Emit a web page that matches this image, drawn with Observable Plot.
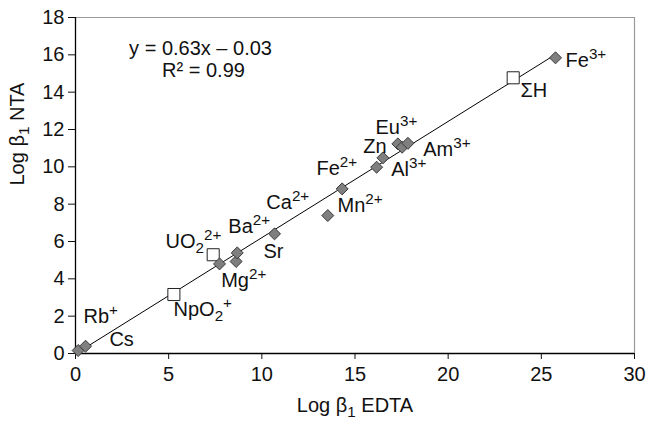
<!DOCTYPE html>
<html>
<head>
<meta charset="utf-8">
<script src="https://cdn.jsdelivr.net/npm/d3@7"></script>
<script src="https://cdn.jsdelivr.net/npm/@observablehq/plot@0.6"></script>
<style>
  html, body { margin: 0; padding: 0; background: #fff; }
  svg { font-family: "Liberation Sans", Arial, Helvetica, sans-serif; }
</style>
</head>
<body>
<div id="chart"></div>
<script>
// ---- data ----
const ions = ["Rb+", "Cs", "NpO2+", "UO2 2+", "Mg a", "Mg b", "Ba/Ca", "Sr", "Mn2+", "Fe2+", "Al a", "Al b", "Zn", "Eu3+", "Am3+", "ΣH", "Fe3+"];
const logEDTA = [0.14, 0.54, 5.28, 7.39, 7.73, 8.62, 8.68, 10.68, 13.54, 14.31, 16.16, 16.5, 17.3, 17.53, 17.84, 23.49, 25.76];
const logNTA  = [0.16, 0.39, 3.16, 5.29, 4.80, 4.93, 5.39, 6.41, 7.39, 8.82, 9.98, 10.48, 11.23, 11.05, 11.26, 14.77, 15.84];
const kinds   = ["d", "d", "s", "s", "d", "d", "d", "d", "d", "d", "d", "d", "d", "d", "d", "s", "d"];

// annotation labels (markup: ^{..} superscript, _{..} subscript), anchored in data units
const labelText = ["Fe^{3+}", "ΣH", "Eu^{3+}", "Zn", "Am^{3+}", "Al^{3+}", "Fe^{2+}", "Mn^{2+}", "Ca^{2+}", "Ba^{2+}", "UO_{2}^{2+}", "Sr", "Mg^{2+}", "NpO_{2}^{+}", "Rb^{+}", "Cs"];
const labelX = [26.30, 23.88, 16.10, 15.44, 18.66, 16.94, 12.93, 14.06, 10.24, 8.20, 4.83, 10.09, 7.82, 5.26, 0.43, 1.82];
const labelY = [15.70, 14.09, 12.11, 11.09, 10.90, 9.86, 9.91, 7.93, 8.07, 6.78, 6.00, 5.46, 3.91, 2.36, 1.98, 0.75];

const eqText = ["y = 0.63x – 0.03", "R² = 0.99"];
const eqX = [6.71, 6.87];
const eqY = [16.34, 15.16];

const xTicks = [0, 5, 10, 15, 20, 25, 30];
const yTicks = [0, 2, 4, 6, 8, 10, 12, 14, 16, 18];

// ---- tables ----
const points = ions.map((n, i) => ({name: n, x: logEDTA[i], y: logNTA[i], kind: kinds[i]}));
const diamonds = points.filter(d => d.kind === "d");
const squares = points.filter(d => d.kind === "s");
const labels = labelText.map((t, i) => ({t, x: labelX[i], y: labelY[i]}));
const eqs = eqText.map((t, i) => ({t, x: eqX[i], y: eqY[i]}));

const FS = 20;

const chart = Plot.plot({
  width: 650,
  height: 424,
  marginLeft: 75,
  marginRight: 16,
  marginTop: 17,
  marginBottom: 71,
  style: {fontSize: FS + "px", fontFamily: "'Liberation Sans', Arial, sans-serif", background: "#fff", color: "#111"},
  x: {domain: [0, 30], ticks: xTicks, tickSize: 6, tickPadding: 7, label: null},
  y: {domain: [0, 18], ticks: yTicks, tickSize: 7, tickPadding: 4, label: null},
  marks: [
    Plot.ruleY([18], {stroke: "#9a9a9a", strokeWidth: 1.2}),
    Plot.ruleX([30], {stroke: "#9a9a9a", strokeWidth: 1.2}),
    Plot.ruleX([0], {stroke: "#000", strokeWidth: 1.3}),
    Plot.ruleY([0], {stroke: "#000", strokeWidth: 1.3}),
    Plot.linearRegressionY(points, {x: "x", y: "y", ci: 0, stroke: "#000", strokeWidth: 1}),
    Plot.dot(squares, {x: "x", y: "y", symbol: "square", r: 6.8, fill: "#fff", stroke: "#222", strokeWidth: 1}),
    Plot.dot(diamonds, {x: "x", y: "y", symbol: "diamond2", r: 5.4, fill: "#7f7f7f", stroke: "#3a3a3a", strokeWidth: 1}),
    Plot.text(labels, {x: "x", y: "y", text: "t", textAnchor: "start", lineAnchor: "middle", fontSize: FS, fill: "#111"}),
    Plot.text(eqs, {x: "x", y: "y", text: "t", textAnchor: "middle", lineAnchor: "middle", fontSize: FS, fill: "#111"}),
    Plot.text(["Log β_{1} EDTA"], {text: d => d, frameAnchor: "bottom", dy: 58, fontSize: FS, fill: "#111"}),
    Plot.text(["Log β_{1} NTA"], {text: d => d, frameAnchor: "left", rotate: -90, dx: -58, fontSize: FS, fill: "#111"})
  ]
});

// rich text: superscripts / subscripts
d3.select(chart).selectAll("text").each(function() {
  const s = this.textContent;
  if (!/[\^_]\{/.test(s)) return;
  const el = d3.select(this);
  el.text(null);
  let shift = 0;
  const re = /([_^])\{([^}]*)\}|([^_^]+)/g;
  let m;
  while ((m = re.exec(s))) {
    let target, str, small;
    if (m[3] !== undefined) { target = 0; str = m[3]; small = false; }
    else if (m[1] === "^") { target = -8; str = m[2]; small = true; }
    else { target = 5; str = m[2]; small = true; }
    const ts = el.append("tspan").text(str);
    if (target !== shift) ts.attr("dy", target - shift);
    if (small) ts.attr("font-size", "76%");
    shift = target;
  }
});

document.getElementById("chart").appendChild(chart);
</script>
</body>
</html>
